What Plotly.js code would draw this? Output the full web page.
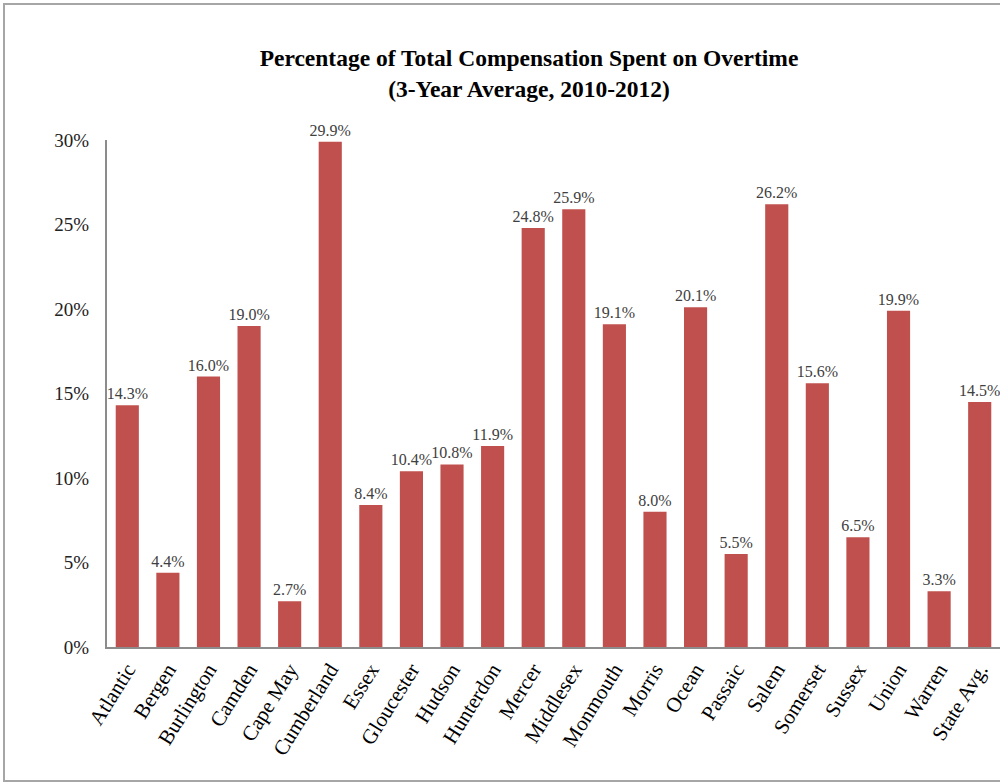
<!DOCTYPE html>
<html>
<head>
<meta charset="utf-8">
<script src="https://cdn.plot.ly/plotly-3.0.1.min.js"></script>
<style>
html,body{margin:0;padding:0;background:#fff;}
#chart{width:1000px;height:783px;}
</style>
</head>
<body>
<div id="chart"></div>
<script>
const counties = ["Atlantic","Bergen","Burlington","Camden","Cape May","Cumberland","Essex","Gloucester","Hudson","Hunterdon","Mercer","Middlesex","Monmouth","Morris","Ocean","Passaic","Salem","Somerset","Sussex","Union","Warren","State Avg."];
const overtimePct = [14.3,4.4,16.0,19.0,2.7,29.9,8.4,10.4,10.8,11.9,24.8,25.9,19.1,8.0,20.1,5.5,26.2,15.6,6.5,19.9,3.3,14.5];
const yTickVals = [0,5,10,15,20,25,30];
const yTickText = ["0%","5%","10%","15%","20%","25%","30%"];

const serif = "'Liberation Serif', 'Times New Roman', serif";

const trace = {
  type: 'bar',
  x: counties,
  y: overtimePct,
  marker: {color: '#C0504D'},
  texttemplate: '%{y:.1f}%',
  textposition: 'outside',
  constraintext: 'none',
  textfont: {family: serif, size: 16, color: '#404040'},
  cliponaxis: false,
  hoverinfo: 'x+y'
};

const layout = {
  width: 1000,
  height: 783,
  margin: {l: 107, r: 0, t: 140, b: 136},
  paper_bgcolor: '#fff',
  plot_bgcolor: '#fff',
  bargap: 0.43,
  showlegend: false,
  title: {
    text: '<b>Percentage of Total Compensation Spent on Overtime<br>(3-Year Average, 2010-2012)</b>',
    font: {family: serif, size: 23.5, color: '#000'},
    x: (529-107)/893, xref: 'paper', xanchor: 'center',
    y: 1 - 66/783, yref: 'container', yanchor: 'middle'
  },
  xaxis: {
    type: 'category',
    tickangle: -58,
    tickfont: {family: serif, size: 21, color: '#000'},
    showline: true, linecolor: '#8c8c8c', linewidth: 2,
    ticks: '', showgrid: false, zeroline: false, fixedrange: true
  },
  yaxis: {
    range: [0, 30],
    tickvals: yTickVals,
    ticktext: yTickText,
    tickfont: {family: serif, size: 19, color: '#222'},
    showline: true, linecolor: '#8c8c8c', linewidth: 2,
    ticks: '', ticklabelstandoff: 12,
    showgrid: false, zeroline: false, fixedrange: true
  },
  shapes: [{
    type: 'rect', xref: 'paper', yref: 'paper',
    x0: (4-107)/893, x1: 1.05,
    y0: (647-781)/507, y1: (647-4)/507,
    line: {color: '#a6a6a6', width: 2},
    fillcolor: 'rgba(0,0,0,0)', layer: 'below'
  }]
};

Plotly.newPlot('chart', [trace], layout, {displayModeBar: false, staticPlot: true});
</script>
</body>
</html>
